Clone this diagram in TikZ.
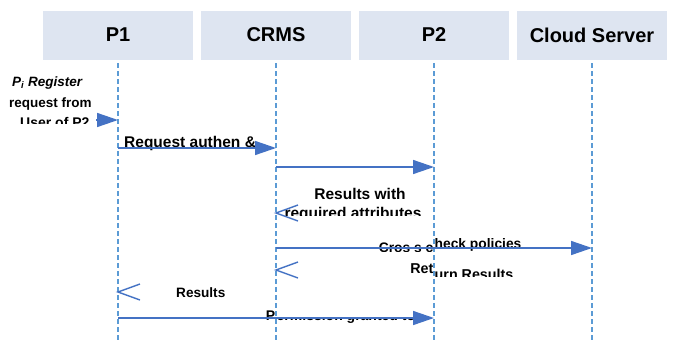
\documentclass[tikz,border=0pt]{standalone}
\usepackage{fontspec}
\setmainfont{Liberation Sans}
\usetikzlibrary{arrows.meta}
\definecolor{hdr}{RGB}{222,229,241}
\definecolor{msg}{RGB}{68,114,196}
\definecolor{life}{RGB}{91,155,213}
\begin{document}
\begin{tikzpicture}[x=1pt,y=-1pt,
  hdrbox/.style={fill=hdr,draw=white,line width=0.8pt,minimum width=151pt,minimum height=50pt,inner sep=0pt,font=\fontsize{20}{24}\selectfont\bfseries},
  lifeline/.style={draw=life,line width=1.5pt,dash pattern=on 5pt off 3pt},
  msgarrow/.style={draw=msg,line width=1.5pt,-{Triangle[length=21pt,width=14pt]}},
  retchev/.style={draw=msg,line width=1.4pt},
  lbl/.style={inner sep=0pt,font=\fontsize{#1}{#1}\selectfont\bfseries},
]
\useasboundingbox (0,0) rectangle (673,341);
\fill[white] (0,0) rectangle (673,341);
% headers
\node[hdrbox] (p1) at (118,35) {P1};
\node[hdrbox] (crms) at (276,35) {CRMS};
\node[hdrbox] (p2) at (434,35) {P2};
\node[hdrbox] (cloud) at (592,35) {Cloud Server};
% lifelines
\foreach \n in {p1,crms,p2,cloud}{
  \coordinate (\n top) at ([yshift=-3pt]\n.south);
  \coordinate (\n end) at (\n.south |- 0,341);
  \draw[lifeline] (\n top) -- (\n end);
}
% message anchor points
\coordinate (m0s) at (96,120);
\coordinate (m0e) at (p1.south |- 0,120);
\coordinate (m1s) at (p1.south |- 0,148);
\coordinate (m1e) at (crms.south |- 0,148);
\coordinate (m2s) at (crms.south |- 0,167);
\coordinate (m2e) at (p2.south |- 0,167);
\coordinate (r1) at (crms.south |- 0,213);
\coordinate (m3s) at (crms.south |- 0,248);
\coordinate (m3e) at (cloud.south |- 0,248);
\coordinate (r2) at (crms.south |- 0,270);
\coordinate (r3) at (p1.south |- 0,292);
\coordinate (m4s) at (p1.south |- 0,318);
\coordinate (m4e) at (p2.south |- 0,318);
% texts
\node[lbl=13.5,anchor=base west] (t1) at (12,86) {\itshape P\textsubscript{i} Register};
\node[lbl=13.5,anchor=base west] (t2) at (9,107) {request from};
\begin{scope}
  \clip (0,108) rectangle (110,123);
  \node[lbl=14,anchor=base west] (t3) at (20,127) {User of P2};
\end{scope}
\node[lbl=15.5,anchor=base west] (t4) at (124,147) {Request authen \&};
\node[lbl=15.5,anchor=base] (t5) at (360,199) {Results with};
\begin{scope}
  \clip (280,200) rectangle (430,215.5);
  \node[lbl=15.5,anchor=base] (t6) at (353,218) {required attributes};
\end{scope}
\begin{scope}
  \clip (370,236) rectangle (434,251);
  \node[lbl=13.8,anchor=base east] (t7a) at (433.5,252.5) {Cros s c};
\end{scope}
\node[lbl=13.8,anchor=base west] (t7b) at (434.5,248) {heck policies};
\node[lbl=14.3,anchor=base east] (t8a) at (433.5,273) {Ret};
\begin{scope}
  \clip (434,255) rectangle (560,276);
  \node[lbl=14.3,anchor=base west] (t8b) at (434.5,279) {urn Results};
\end{scope}
\node[lbl=13.6,anchor=base west] (t9) at (176,297) {Results};
\node[lbl=14,anchor=base east] (t10a) at (275.5,320) {P};
\begin{scope}
  \clip (276,317) rectangle (432,322);
  \node[lbl=14,anchor=base west] (t10b) at (276.5,320) {ermission granted to};
\end{scope}
% messages
\draw[msgarrow] (m0s) -- (m0e);
\draw[msgarrow] (m1s) -- (m1e);
\draw[msgarrow] (m2s) -- (m2e);
\draw[msgarrow] (m3s) -- (m3e);
\draw[msgarrow] (m4s) -- (m4e);
% return chevrons
\draw[retchev] (r1) ++(22,-8) -- (r1) -- ++(22,8);
\draw[retchev] (r2) ++(22,-8) -- (r2) -- ++(22,8);
\draw[retchev] (r3) ++(22,-8) -- (r3) -- ++(22,8);
\end{tikzpicture}
\end{document}
